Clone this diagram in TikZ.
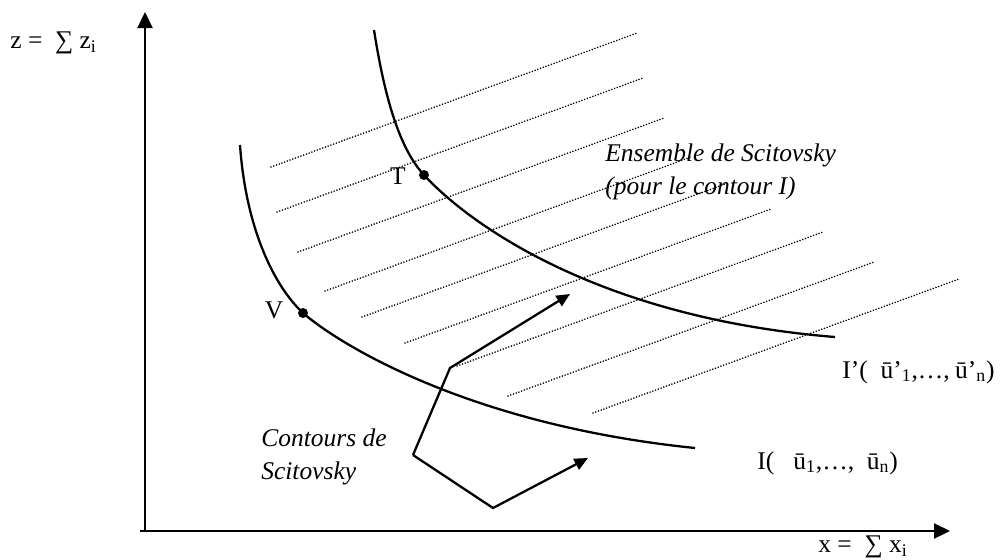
\documentclass[tikz,border=0pt]{standalone}
\usepackage{fontspec}
\setmainfont{Liberation Serif}
\usetikzlibrary{arrows.meta,positioning}

\tikzset{
  curve/.style={line width=1.3pt},
  hatch/.style={line width=1pt, line cap=round, dash pattern=on 0pt off 1.65pt},
  axis/.style={line width=1.3pt, -{Triangle[length=0.32cm,width=0.3cm]}},
  pointer/.style={line width=1.3pt, -{Triangle[length=0.27cm,width=0.24cm]}},
  lbl/.style={font=\fontsize{14.5}{18.7}\selectfont, inner sep=0pt},
  note/.style={lbl, font=\fontsize{14.5}{18.7}\selectfont\itshape, align=left},
}

\begin{document}
\begin{tikzpicture}[x=0.02cm, y=-0.02cm]
\useasboundingbox (0,0) rectangle (1002,559);

% Axes
\coordinate (O) at (145,531);     % origin
\coordinate (xend) at (950,531);  % tip of the x axis
\coordinate (yend) at (145,12);   % tip of the z axis
\draw[axis] (O) -- (yend);
\draw[axis] (140,531) -- (xend);
\node[lbl, anchor=west] (zlab) at (10,43) {z =\ \ ∑ z\textsubscript{i}};
\node[lbl, anchor=west] (xlab) at (818,547) {x =\ \ ∑ x\textsubscript{i}};

% Scitovsky set (dotted hatching)
\foreach \x/\y in {271/167, 277/212, 298/252, 325/291, 362/317,
                   405/343, 457/366, 508/396, 593/413}
  \draw[hatch] (\x,\y) -- ++(366,-134);

% Points on the contours
\coordinate (V) at (303,313);
\coordinate (T) at (424,175);

% Contour I
\draw[curve] (240,145) .. controls (246,230) and (275,287) .. (V)
  .. controls (340,345) and (470,425) .. (695,448);
% Contour I'
\draw[curve] (374,30) .. controls (385,100) and (400,149) .. (T)
  .. controls (470,225) and (600,318) .. (835,337);

\fill (V) circle (0.1cm);
\fill (T) circle (0.1cm);
\node[lbl] (Vlab) at (274,310) {V};
\node[lbl] (Tlab) at (398,176) {T};

% Contour labels
\node[lbl, anchor=west] (Iplab) at (842,372) {I’(\ \ ū’\textsubscript{1},…,\hspace{3pt}ū’\textsubscript{n})};
\node[lbl, anchor=west] (Ilab) at (757,463) {I(\ \ \ ū\textsubscript{1},…,\ \ ū\textsubscript{n})};
\node[note, anchor=west] (setlab) at (605,172) {Ensemble de Scitovsky\\(pour le contour I)};
\node[note, anchor=west] (contours) at (261,457) {Contours de\\Scitovsky};

% Pointers from the label to both contours
\coordinate (pc) at (413,455);   % corner next to the label
\coordinate (pk) at (450,368);   % upper bend
\coordinate (pb) at (493,508);   % lower bend
\coordinate (tipIp) at (570,294);
\coordinate (tipI) at (588,458);
\draw[pointer] (pc) -- (pk) -- (tipIp);
\draw[pointer] (pc) -- (pb) -- (tipI);

\end{tikzpicture}
\end{document}
